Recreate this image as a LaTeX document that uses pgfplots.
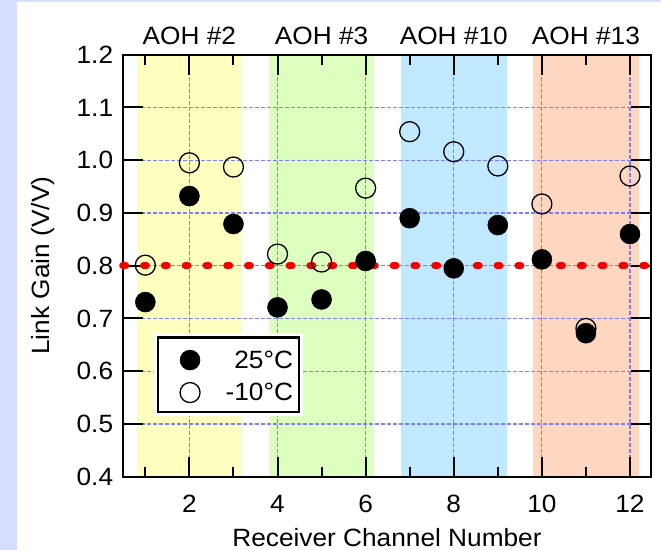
\documentclass[border=0pt]{standalone}
\usepackage{fontspec}
\setmainfont{Liberation Sans}[FakeStretch=1.05]
\usepackage{pgfplots}
\pgfplotsset{compat=1.18}
\definecolor{bgblue}{RGB}{212,222,255}
\definecolor{bandY}{RGB}{255,255,192}
\definecolor{bandG}{RGB}{221,255,192}
\definecolor{bandB}{RGB}{192,232,255}
\definecolor{bandO}{RGB}{255,214,192}
\definecolor{gridblue}{RGB}{125,125,255}
\definecolor{dotred}{RGB}{245,0,0}
\pgfplotsset{layers/mylayers/.define layer set={pagebg,axis background,axis grid,axis ticks,axis lines,axis tick labels,pre main,main,axis descriptions,axis foreground}{}}
\newcommand\bigf{\fontsize{25bp}{30bp}\selectfont}
\begin{document}
\begin{tikzpicture}
\begin{axis}[
  set layers=mylayers,
  clip=false,
  scale only axis, width=527.4bp, height=422bp,
  xmin=0.5, xmax=12.47, ymin=0.4, ymax=1.2,
  xtick={2,4,6,8,10,12}, minor xtick={1,3,5,7,9,11},
  ytick={0.4,0.5,0.6,0.7,0.8,0.9,1.0,1.1,1.2},
  tick align=inside,
  major tick length=20bp, minor tick length=10bp,
  every tick/.style={black, line width=2bp},
  axis line style={line width=2.2bp},
  grid=major,
  major grid style={gridblue, line width=1.2bp, dash pattern=on 3.5bp off 2.5bp},
  /pgf/number format/assume math mode=true,
  yticklabel style={/pgf/number format/fixed, /pgf/number format/fixed zerofill, /pgf/number format/precision=1,
     font=\bigf, anchor=east, inner sep=0pt, xshift=-10bp},
  xticklabel style={font=\bigf, anchor=base, inner sep=0pt, yshift=-36.3bp},
  every axis x label/.style={at={(rel axis cs:0.5,-0.1643)}, anchor=base, inner sep=0pt, font=\bigf},
  every axis y label/.style={at={(rel axis cs:-0.139,0.5)}, rotate=90, anchor=base, inner sep=0pt, font=\bigf},
  xlabel={Receiver Channel Number},
  ylabel={Link Gain (V/V)},
  legend cell align=right,
  legend style={at={(rel axis cs:0.066,0.330)}, anchor=north west, draw=black, line width=2.5bp, fill=white,
     preaction={draw=white, line width=8.5bp}, inner xsep=6bp, inner ysep=4.9bp, outer sep=0pt,
     font=\bigf, row sep=0bp, nodes={inner sep=0pt}},
  legend image code/.code={\path (0bp,-10.5bp) (53bp,13.5bp); \draw[#1] plot coordinates {(21.7bp,0bp)};},
]
\begin{pgfonlayer}{pagebg}
\fill[bgblue] (rel axis cs:-0.2338,-0.1737) rectangle (rel axis cs:1.01953,1.1296);
\fill[white] (rel axis cs:-0.2016,-0.1737) rectangle (rel axis cs:1.01953,1.1249);
\end{pgfonlayer}
\begin{pgfonlayer}{axis background}
\fill[bandY] (axis cs:0.8,0.4) rectangle (axis cs:3.2,1.2);
\fill[bandG] (axis cs:3.8,0.4) rectangle (axis cs:6.2,1.2);
\fill[bandB] (axis cs:6.8,0.4) rectangle (axis cs:9.2,1.2);
\fill[bandO] (axis cs:9.8,0.4) rectangle (axis cs:12.2,1.2);
\end{pgfonlayer}
\coordinate (pbl) at (rel axis cs:-0.2338,-0.1737);
\coordinate (ptr) at (rel axis cs:1.01953,1.1296);
\addplot[dotred, line width=7bp, line cap=round, dash pattern=on 3bp off 17.8bp, forget plot]
  coordinates {(0.486,0.8) (12.374,0.8)};
\addplot[only marks, mark=*, mark size=10bp, mark options={fill=black, draw=black, line width=0.5bp}]
  coordinates {(1,0.731) (2,0.932) (3,0.879) (4,0.721) (5,0.736) (6,0.809)
               (7,0.890) (8,0.795) (9,0.877) (10,0.812) (11,0.672) (12,0.860)};
\addlegendentry{25°C}
\addplot[only marks, mark=o, mark size=10bp, mark options={draw=black, line width=1.3bp}]
  coordinates {(1,0.801) (2,0.995) (3,0.987) (4,0.822) (5,0.807) (6,0.947)
               (7,1.054) (8,1.016) (9,0.989) (10,0.917) (11,0.681) (12,0.970)};
\addlegendentry{-10°C}
\node[anchor=base, font=\bigf, yshift=9.7bp] at (axis cs:2,1.2) {AOH \#2};
\node[anchor=base, font=\bigf, yshift=9.7bp] at (axis cs:5,1.2) {AOH \#3};
\node[anchor=base, font=\bigf, yshift=9.7bp] at (axis cs:8,1.2) {AOH \#10};
\node[anchor=base, font=\bigf, yshift=9.7bp] at (axis cs:11,1.2) {AOH \#13};
\end{axis}
\pgfresetboundingbox
\path (pbl) rectangle (ptr);
\end{tikzpicture}
\end{document}
